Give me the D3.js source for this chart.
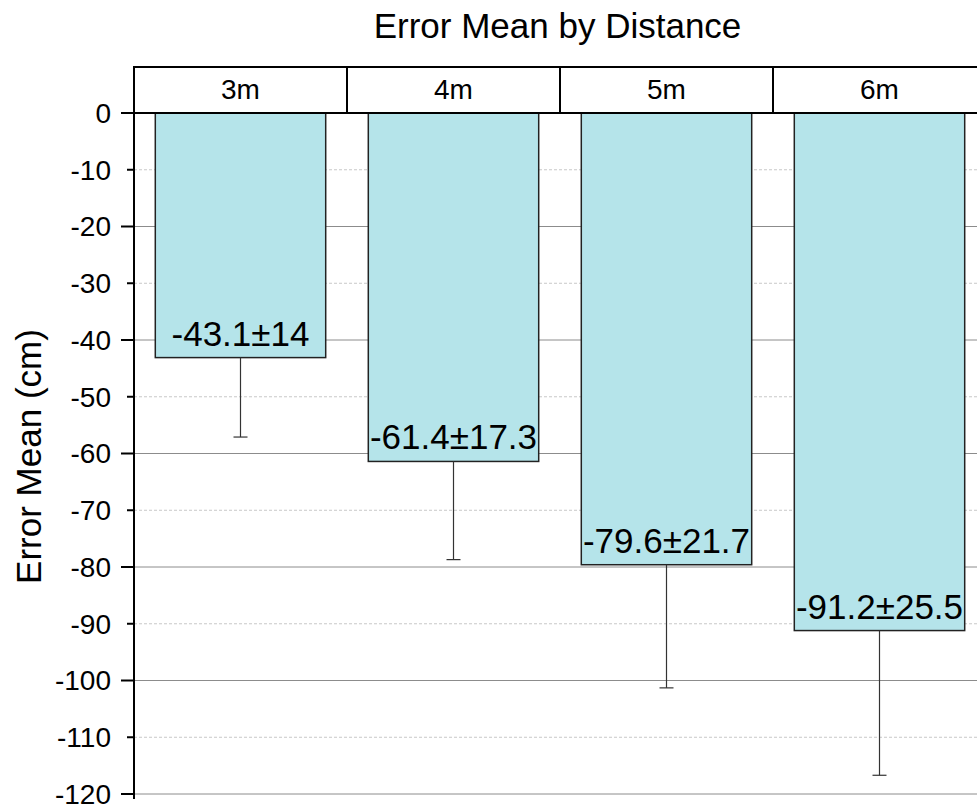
<!DOCTYPE html>
<html>
<head>
<meta charset="utf-8">
<script src="https://cdn.jsdelivr.net/npm/d3@7"></script>
<style>
  html, body { margin: 0; padding: 0; background: #fff; }
  svg { display: block; font-family: "Liberation Sans", Arial, sans-serif; }
</style>
</head>
<body>
<svg id="chart" width="977" height="810"></svg>
<script>
const categories = ["3m", "4m", "5m", "6m"];
const means = [-43.1, -61.4, -79.6, -91.2];
const sds = [14, 17.3, 21.7, 25.5];
const labels = ["-43.1±14", "-61.4±17.3", "-79.6±21.7", "-91.2±25.5"];
const yTicks = [0, -10, -20, -30, -40, -50, -60, -70, -80, -90, -100, -110, -120];
const title = "Error Mean by Distance";
const yTitle = "Error Mean (cm)";

(function () {
const svg = d3.select("#chart");
const mLeft = 134, mRight = 986, mTop = 113, mBottom = 794, stripTop = 67;

const y = d3.scaleLinear().domain([0, -120]).range([mTop, mBottom]);
const panel = d3.scaleBand().domain(categories).range([mLeft, mRight]).paddingInner(0).paddingOuter(0);
const bw = panel.bandwidth();
const barPad = 0.1;
const barX = d => panel(d) + bw * barPad;
const barW = bw * (1 - 2 * barPad);

// Title
svg.append("text")
  .attr("x", 557.5).attr("y", 38)
  .attr("text-anchor", "middle")
  .attr("font-size", 35)
  .attr("fill", "#000")
  .text(title);

// Gridlines
const grid = svg.append("g");
yTicks.filter(t => t !== 0).forEach(t => {
  const major = t % 20 === 0;
  grid.append("line")
    .attr("x1", mLeft).attr("x2", mRight)
    .attr("y1", y(t)).attr("y2", y(t))
    .attr("stroke", major ? "#8c8c8c" : "#c8c8c8")
    .attr("stroke-width", 1)
    .attr("stroke-dasharray", major ? null : "3,2");
});

// Bars
svg.append("g").selectAll("rect").data(categories).join("rect")
  .attr("x", d => barX(d))
  .attr("y", y(0))
  .attr("width", barW)
  .attr("height", (d, i) => y(means[i]) - y(0))
  .attr("fill", "#b5e4ea")
  .attr("stroke", "#222")
  .attr("stroke-width", 1.5);

// Error bars
const eb = svg.append("g").attr("stroke", "#333").attr("stroke-width", 1.2);
categories.forEach((c, i) => {
  const cx = barX(c) + barW / 2;
  eb.append("line").attr("x1", cx).attr("x2", cx)
    .attr("y1", y(means[i])).attr("y2", y(means[i] - sds[i]));
  eb.append("line").attr("x1", cx - 7).attr("x2", cx + 7)
    .attr("y1", y(means[i] - sds[i])).attr("y2", y(means[i] - sds[i]));
});

// Bar labels
svg.append("g").selectAll("text").data(categories).join("text")
  .attr("x", d => barX(d) + barW / 2)
  .attr("y", (d, i) => y(means[i]) - 12)
  .attr("text-anchor", "middle")
  .attr("font-size", 35)
  .attr("fill", "#000")
  .text((d, i) => labels[i]);

// Strip header
const strip = svg.append("g");
strip.selectAll("rect").data(categories).join("rect")
  .attr("x", d => panel(d)).attr("y", stripTop)
  .attr("width", bw).attr("height", mTop - stripTop)
  .attr("fill", "#fff").attr("stroke", "#000").attr("stroke-width", 2);
strip.selectAll("text").data(categories).join("text")
  .attr("x", d => panel(d) + bw / 2).attr("y", 99)
  .attr("text-anchor", "middle")
  .attr("font-size", 28)
  .text(d => d);

// Y axis
const axis = svg.append("g");
axis.append("line").attr("x1", mLeft).attr("x2", mLeft)
  .attr("y1", stripTop).attr("y2", mBottom + 5)
  .attr("stroke", "#000").attr("stroke-width", 2);
yTicks.forEach(t => {
  const major = t % 20 === 0;
  axis.append("line")
    .attr("x1", mLeft - (major ? 13 : 7)).attr("x2", mLeft)
    .attr("y1", y(t)).attr("y2", y(t))
    .attr("stroke", "#000").attr("stroke-width", 2);
  axis.append("text")
    .attr("x", 111).attr("y", y(t))
    .attr("dy", "0.35em")
    .attr("text-anchor", "end")
    .attr("font-size", 28)
    .text(String(t));
});

// Y title
svg.append("text")
  .attr("transform", `translate(41, ${(mTop + mBottom) / 2 + 3}) rotate(-90)`)
  .attr("text-anchor", "middle")
  .attr("font-size", 35)
  .text(yTitle);
})();
</script>
</body>
</html>
